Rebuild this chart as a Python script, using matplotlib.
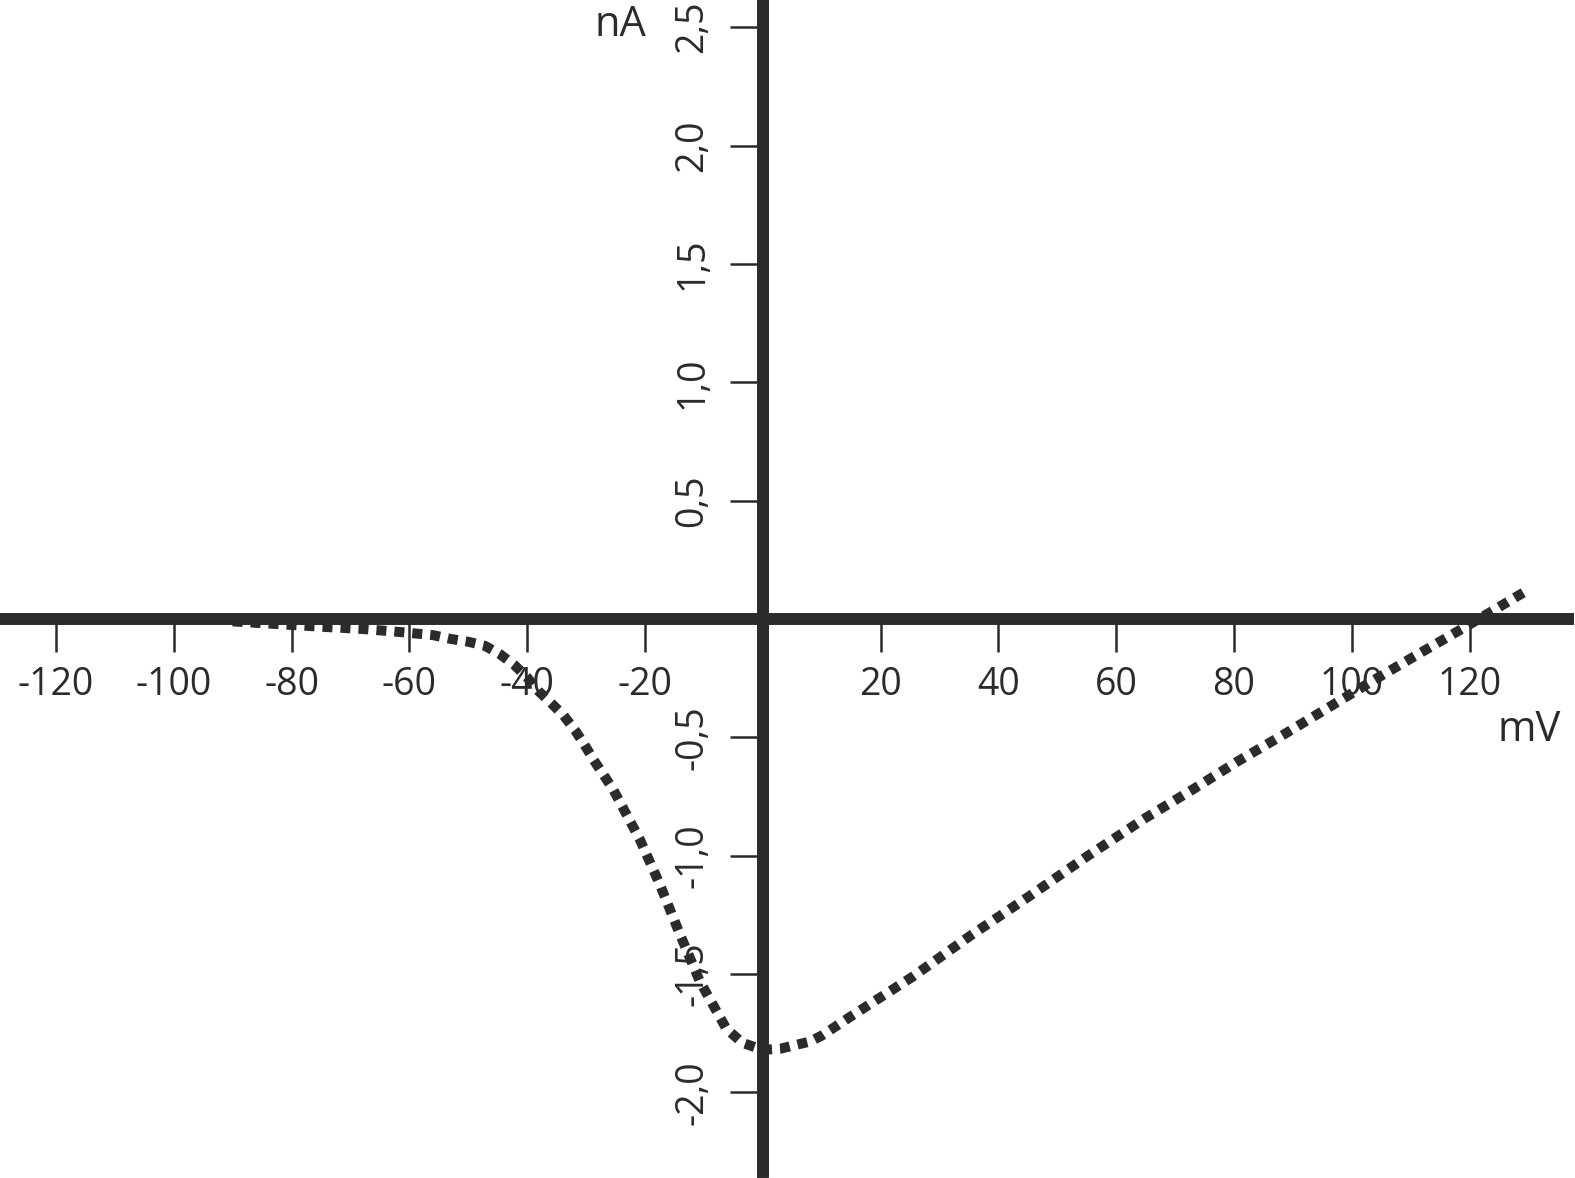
import numpy as np
import matplotlib
matplotlib.use("Agg")
import matplotlib.pyplot as plt

plt.rcParams['font.family'] = ['Open Sans', 'DejaVu Sans']

# current-voltage curve
voltage_mv = [-90, -80, -74, -68, -62, -56, -53, -50, -47.2, -44.6, -42.2, -40.1,
              -38.1, -35.9, -33.8, -31.9, -30.3, -28.7, -25.4, -20.9, -17.5, -14.1,
              -10.7, -6.2, -3.5, 0, 3, 8, 10, 15.3, 25.5, 35.4, 45.3, 55.2, 65,
              73, 80.7, 88.3, 96.3, 103.6, 111.5, 119.5, 129.7]
current_na = [-0.01, -0.025, -0.034, -0.042, -0.054, -0.068, -0.084, -0.096, -0.113,
              -0.149, -0.194, -0.244, -0.304, -0.356, -0.408, -0.469, -0.53, -0.596,
              -0.72, -0.93, -1.12, -1.33, -1.53, -1.73, -1.79, -1.82, -1.815, -1.785,
              -1.76, -1.673, -1.51, -1.335, -1.17, -1.0, -0.84, -0.72, -0.60, -0.49,
              -0.37, -0.26, -0.145, -0.03, 0.12]

xticks = [-120, -100, -80, -60, -40, -20, 20, 40, 60, 80, 100, 120]
yticks = [-2.0, -1.5, -1.0, -0.5, 0.5, 1.0, 1.5, 2.0, 2.5]
ytick_labels = [f"{v:.1f}".replace('.', ',') for v in yticks]

ink = '#2b2b2b'

fig = plt.figure(figsize=(15.75, 11.78), dpi=100)
ax = fig.add_axes([0, 6 / 1178, 1568 / 1575, 1172 / 1178])

ax.plot(voltage_mv, current_na, color=ink, lw=7.2,
        linestyle=(0, (1.0, 0.8)), dash_capstyle='butt', zorder=3)

ax.set_xlim(-129.5, 136.7)
ax.set_ylim(-2.336, 2.615)

for side in ('top', 'right'):
    ax.spines[side].set_visible(False)
for side in ('left', 'bottom'):
    ax.spines[side].set_position(('data', 0))
    ax.spines[side].set_linewidth(8.6)
    ax.spines[side].set_color(ink)
    ax.spines[side].set_zorder(2)

ax.set_xticks(xticks)
ax.set_xticklabels([str(v) for v in xticks])
ax.set_yticks(yticks)
ax.set_yticklabels(ytick_labels, rotation=90, va='center')

ax.tick_params(axis='both', direction='out', length=24, width=1.8,
               color=ink, labelcolor=ink, labelsize=27)
ax.tick_params(axis='x', pad=10)
ax.tick_params(axis='y', pad=13)

ax.text(-19.8, 2.51, 'nA', ha='right', va='center', fontsize=30, color=ink)
ax.text(135.5, -0.47, 'mV', ha='right', va='center', fontsize=30, color=ink)

fig.savefig('out.png', dpi=100)
